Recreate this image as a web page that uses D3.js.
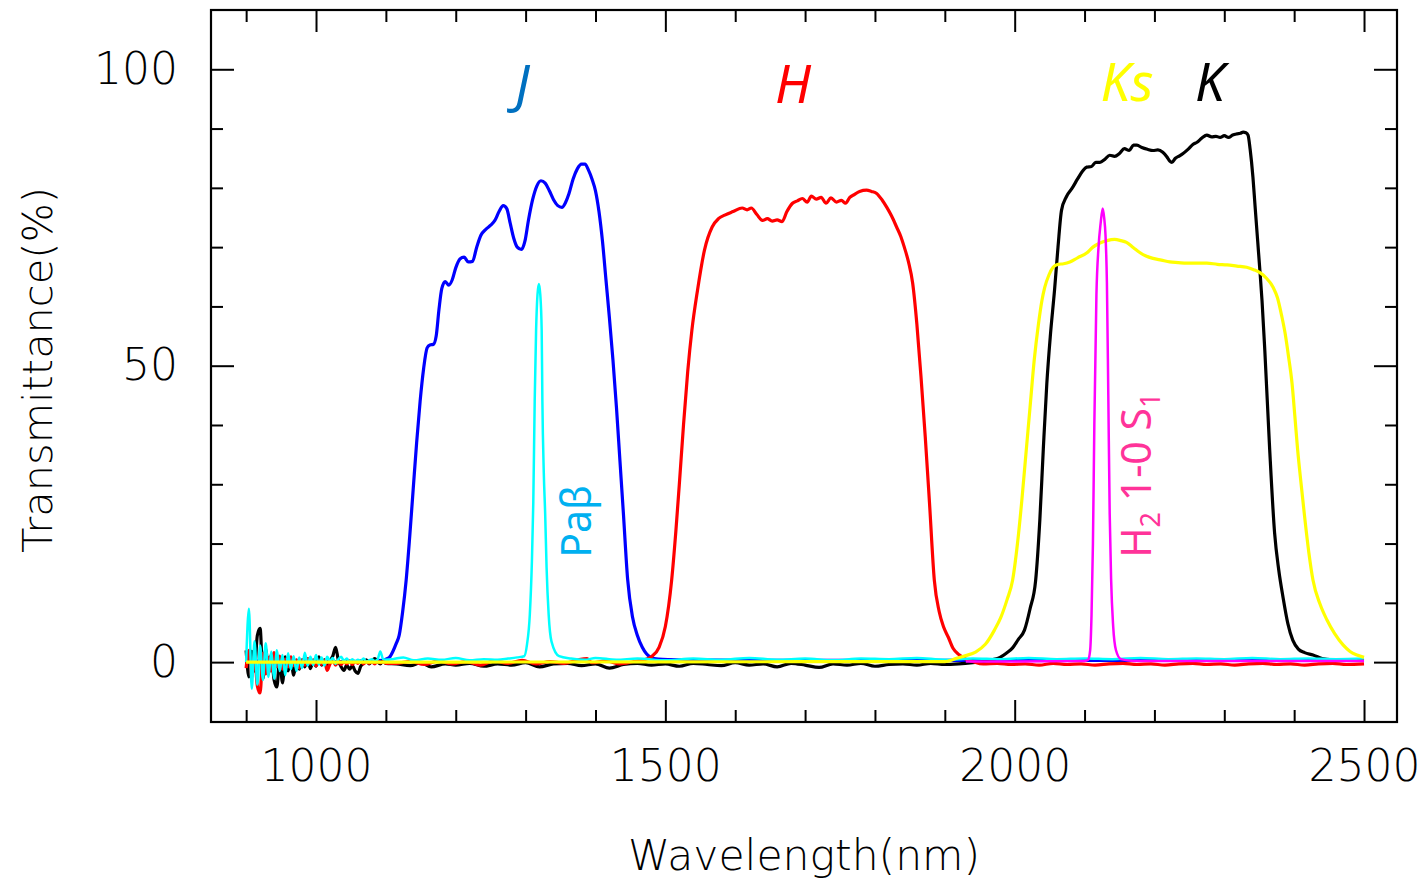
<!DOCTYPE html>
<html>
<head>
<meta charset="utf-8">
<script src="https://cdn.jsdelivr.net/npm/d3@7"></script>
<style>
  body { margin: 0; background: #fff; }
</style>
</head>
<body>
<svg id="chart" width="1423" height="881"></svg>
<script>
// ---- axis ticks ----
const xMajor = [1000, 1500, 2000, 2500];
const xMinor = [900, 1100, 1200, 1300, 1400, 1600, 1700, 1800, 1900, 2100, 2200, 2300, 2400];
const yMajor = [0, 50, 100];
const yMinor = [10, 20, 30, 40, 60, 70, 80, 90];

// ---- detector noise below 1100 nm (sampled every 4 nm from 900 nm) ----
const noiseWl = d3.range(900, 1101, 4);
const kNoise = [2, -2.5, 1.8, -1.5, 4.5, 5.7, -2.8, 2.2, -1.8, 1.2, -3, -4.2, 0.8, -3.5, 0.9, -1.5, 0.6, -2.2, 0.3, -1.2,
  0.4, -0.8, 0.6, -1.1, 0.3, -0.7, 0.9, -0.5, 0.4, -1, 0.2, 1, 2.5, 0.3, -0.8, -1.4, -0.5, -1.2, -0.6, -1.5,
  -1.9, -0.7, -0.2, 0.4, -0.3, 0.2, 0.6, 0.1, -0.3, 0.2, -0.2];
const hNoise = [-1, 2, -2.5, 1.2, -4, -5.2, 1.5, -2, 0.8, -1.5, 1.6, -0.8, 1, -1.2, 0.5, -0.8, 0.9, -0.6, 0.4, -1,
  0.3, -0.5, 0.6, -0.3, 0.4, -0.6, 0.2, -0.4, 0.3, -1.4, -0.3, 0.3, -0.5, 0.2, -0.4, 0.1, -0.3, 0.2, -0.4, 0.1,
  -0.2, 0.2, -0.3, 0.1, -0.2, 0.1, -0.3, 0.2, -0.1, 0.1, -0.2];
const pabNoise = [0, 9, -4.5, 3.5, -3.8, 2.8, -3, 3.2, -2.5, 1.8, -2.8, 2, -1.5, 1.2, -2.2, 1.5, -1.2, 1, -1.5, 0.8,
  -1, 1.6, -0.6, 0.9, -0.5, 1.2, -0.4, 0.8, -0.6, 0.9, 0.2, 0.7, -0.3, 0.5, 0.9, 0.2, 0.6, 0.1, 0.5, 0.1,
  0.4, 0.2, 0.6, 0.1, 0.3, 0.5, 0.2, 0.4, 1.8, 0.5, 0.4];

// ---- filter transmission curves: [wavelength nm, transmittance %] ----
const jCurve = [[900,0.1],[960,0.2],[1040,0.1],[1095,0.3],[1100,0.5],[1105,0.8],[1110,1.8],[1115,3.2],[1119,4.5],
  [1124,8.5],[1129,13.8],[1134,21],[1139,29],[1144,37],[1149,44],[1154,49.5],[1159,53],[1163,53.5],[1168,53.6],
  [1172,55],[1176,59.5],[1180,63],[1185,64.2],[1190,63.6],[1195,64.5],[1200,66.5],[1206,68],[1212,68.3],[1218,67.5],
  [1224,67.6],[1230,70],[1236,72],[1243,73],[1250,73.7],[1256,74.5],[1262,76],[1268,77],[1273,76.5],[1278,74],
  [1283,71.5],[1288,70],[1294,69.6],[1299,71],[1304,74.5],[1310,78],[1316,80.3],[1322,81.2],[1328,80.8],[1334,79.5],
  [1340,78],[1346,77],[1352,76.7],[1357,77.5],[1362,79],[1368,81.5],[1374,83.2],[1380,84],[1385,84],[1390,83],
  [1395,81.5],[1400,79.5],[1405,76],[1410,71],[1415,64.5],[1420,58],[1425,51],[1430,43],[1435,34],[1440,25],
  [1446,14],[1453,7.6],[1460,4.5],[1467,2.5],[1473,1.4],[1478,0.9],[1490,0.5],[1520,0.4],[1700,0.3],[2000,0.3],[2500,0.3]];

const hCurve = [[1115,-0.2],[1135,0.1],[1155,-0.4],[1175,0.2],[1195,-0.3],[1215,0.1],[1235,-0.5],[1255,0.2],[1275,-0.2],
  [1295,0.3],[1315,-0.3],[1335,0.1],[1355,-0.2],[1375,0.4],[1388,0.6],[1395,-0.1],[1415,0.2],[1435,-0.3],[1455,0.1],[1470,0.4],
  [1481,1],[1491,2.5],[1500,6],[1509,13.8],[1515,22],[1520,30],[1526,40],[1532,49],[1538,56],[1546,62.7],[1556,69.5],
  [1567,73.4],[1576,74.8],[1585,75.4],[1597,76],[1610,76.6],[1617,76.3],[1623,76.6],[1631,75.5],[1639,74.5],[1646,74.8],
  [1653,74.4],[1660,74.6],[1667,74.3],[1674,76],[1682,77.4],[1689,77.8],[1696,78.2],[1703,77.6],[1709,78.6],[1716,78.1],
  [1723,78.4],[1730,77.4],[1737,78.3],[1745,77.6],[1752,77.9],[1758,77.4],[1764,78.4],[1771,78.9],[1778,79.4],[1788,79.6],
  [1795,79.4],[1802,79.1],[1810,78],[1817,76.7],[1824,75.2],[1831,73.4],[1837,71.8],[1842,70],[1848,67.5],[1854,63.9],
  [1860,57],[1866,48],[1872,38],[1878,27],[1885,13.8],[1892,8.5],[1898,6],[1905,4.2],[1912,2.3],[1921,1.2],[1930,0.5],
  [1940,0.1],[1955,-0.3],[1975,-0.2],[1995,-0.4],[2015,-0.3],[2035,-0.5],[2055,-0.2],[2075,-0.4],[2095,-0.3],[2115,-0.5],
  [2135,-0.3],[2155,-0.2],[2175,-0.4],[2195,-0.3],[2215,-0.5],[2235,-0.3],[2255,-0.2],[2275,-0.4],[2295,-0.3],[2315,-0.5],
  [2335,-0.3],[2355,-0.2],[2375,-0.4],[2395,-0.3],[2415,-0.5],[2435,-0.3],[2455,-0.2],[2475,-0.4],[2500,-0.3]];

const kCurve = [[1115,-0.3],[1135,-0.6],[1150,-0.1],[1165,-0.8],[1185,-0.3],[1200,-0.5],[1220,-0.2],[1240,-0.7],[1260,-0.3],
  [1280,-0.5],[1300,-0.1],[1320,-0.8],[1340,-0.3],[1360,-0.2],[1380,-0.6],[1400,-0.3],[1420,-1.0],[1440,-0.4],[1460,-0.2],
  [1480,-0.5],[1500,-0.3],[1520,-0.7],[1540,-0.2],[1560,-0.4],[1580,-0.6],[1600,-0.1],[1620,-0.5],[1640,-0.3],[1660,-0.8],
  [1680,-0.2],[1700,-0.5],[1720,-0.9],[1740,-0.3],[1760,-0.5],[1780,-0.2],[1800,-0.7],[1820,-0.4],[1840,-0.3],[1860,-0.5],
  [1880,-0.2],[1900,-0.4],[1920,-0.3],[1940,-0.1],[1955,0.1],[1968,0.4],
  [1979,0.8],[1988,1.5],[1997,2.4],[2005,3.8],[2014,5.4],[2022,9],[2030,13.8],[2036,24],[2041,36],[2046,47],[2051,55],
  [2057,62.7],[2062,70],[2067,76.2],[2074,78.5],[2082,79.9],[2090,81.5],[2097,82.8],[2103,83.5],[2110,83.6],[2116,84.3],
  [2122,84.3],[2129,84.8],[2136,85.5],[2143,85.3],[2150,85.8],[2157,86.6],[2164,86.3],[2170,87.2],[2175,87.2],[2182,86.8],
  [2190,86.5],[2198,86.3],[2205,86.4],[2212,86],[2218,85.2],[2222,84.5],[2225,84.3],[2230,85],[2236,85.4],[2241,85.8],
  [2248,86.5],[2255,87.3],[2261,87.7],[2268,88.4],[2275,88.9],[2282,88.6],[2288,88.7],[2294,88.5],[2300,88.8],[2306,88.5],
  [2312,88.9],[2318,89.1],[2323,89.2],[2327,89.4],[2331,89.3],[2334,88.9],[2337,86.5],[2341,81.8],[2344,77],[2348,70.7],
  [2351,66],[2354,61],[2358,52.6],[2365,35.8],[2372,21.8],[2378,15.5],[2384,11],[2391,6.5],[2398,3.7],[2406,2.2],
  [2415,1.6],[2427,1.2],[2440,0.6],[2455,0.4],[2500,0.3]];

const ksCurve = [[900,0],[1000,0],[1500,0.05],[1900,0.1],[1918,0.7],[1930,1.1],[1944,1.7],[1958,3],[1971,5.4],[1980,7.5],
  [1989,10.5],[1997,13.8],[2004,20],[2010,27],[2016,35],[2022,43],[2028,51],[2034,57],[2039,61],[2043,63.2],[2049,65.3],
  [2055,66.6],[2062,67.1],[2070,67.2],[2079,67.5],[2090,68.2],[2103,69],[2112,70],[2122,70.7],[2132,71.1],[2143,71.3],
  [2152,71.1],[2160,70.8],[2170,69.9],[2179,69.1],[2188,68.5],[2198,68.1],[2210,67.8],[2222,67.5],[2234,67.4],[2246,67.3],
  [2260,67.3],[2275,67.3],[2290,67.1],[2304,67],[2318,66.8],[2332,66.6],[2342,66.2],[2351,65.7],[2360,64.8],[2370,63.2],
  [2376,61.5],[2382,58.5],[2387,55.5],[2392,51.5],[2397,47],[2401,41.5],[2405,35.8],[2410,30],[2415,24.5],[2421,18.5],
  [2427,13.8],[2437,9.8],[2447,7.1],[2458,4.8],[2470,2.9],[2480,1.8],[2490,1.2],[2500,0.8]];

const pabCurve = [[1110,0.5],[1125,0.8],[1140,0.3],[1160,0.6],[1180,0.4],[1200,0.7],[1220,0.3],[1240,0.5],[1260,0.4],
  [1275,0.6],[1288,0.8],[1298,1],[1302,3],[1306,8],[1309,17],[1311,27],[1313,44],[1315,56],[1317,62],[1319,63.8],
  [1321,62],[1323,56],[1324,44],[1326,32],[1328,25],[1330,16],[1333,8],[1337,3.5],[1348,1],[1365,0.6],[1385,0.4],
  [1400,0.7],[1430,0.4],[1460,0.6],[1500,0.3],[1540,0.6],[1580,0.4],[1620,0.7],[1660,0.4],[1700,0.6],[1740,0.3],
  [1780,0.6],[1820,0.5],[1860,0.7],[1900,0.4],[1940,0.6],[1980,0.5],[2020,0.7],[2060,0.5],[2100,0.6],[2140,0.5],
  [2180,0.7],[2220,0.5],[2260,0.6],[2300,0.5],[2340,0.7],[2380,0.5],[2420,0.6],[2460,0.5],[2500,0.6]];

const h2Curve = [[1930,0.1],[2000,0.1],[2100,0.2],[2105,0.4],[2108,2],[2110,8],[2112,20],[2114,40],[2117,62],[2120,70],
  [2123,74],[2126,76.5],[2128,75],[2130,72],[2132,64],[2134,45],[2136,25],[2138,14],[2141,6],[2145,2],[2152,0.5],
  [2170,0.2],[2500,0.2]];

// ---- series, in drawing order ----
const pairs = (wl, vals) => wl.map((w, i) => [w, vals[i]]);
const series = [
  { name: "J",      color: "#0000ff", width: 3.2, data: jCurve },
  { name: "K",      color: "#000000", width: 3.2, data: pairs(noiseWl, kNoise).concat(kCurve) },
  { name: "H",      color: "#ff0000", width: 3.2, data: pairs(noiseWl, hNoise).concat(hCurve) },
  { name: "PaB",    color: "#00ffff", width: 2.5, data: pairs(noiseWl, pabNoise).concat(pabCurve) },
  { name: "Ks",     color: "#ffff00", width: 3.2, data: ksCurve },
  { name: "H2",     color: "#ff00ff", width: 2.5, data: h2Curve }
];

// ---- band names and narrow-band line labels ----
const bandLabels = [
  { text: "J",  wl: 1285, t: 94.3, color: "#0070c0" },
  { text: "H",  wl: 1657, t: 94.3, color: "#ff0000" },
  { text: "Ks", wl: 2123, t: 94.6, color: "#ffff00" },
  { text: "K",  wl: 2258, t: 94.6, color: "#000000" }
];

const svg = d3.select("#chart");
const x = d3.scaleLinear().domain([849.7, 2547.2]).range([211, 1397]);
const y = d3.scaleLinear().domain([-10.1, 110]).range([722, 10]);

const [x0, x1] = x.range();
const [yb, yt] = y.range();

svg.append("defs").append("clipPath").attr("id", "plot")
  .append("rect").attr("x", x0).attr("y", yt).attr("width", x1 - x0).attr("height", yb - yt);

// curves
const line = d3.line().x(d => x(d[0])).y(d => y(d[1])).curve(d3.curveMonotoneX);
svg.append("g").attr("clip-path", "url(#plot)")
  .selectAll("path").data(series).join("path")
  .attr("d", d => line(d.data))
  .attr("fill", "none")
  .attr("stroke", d => d.color)
  .attr("stroke-width", d => d.width)
  .attr("stroke-linejoin", "round");

// axes: ticks point inward on all four sides
const tickFont = g => g.selectAll("text")
  .attr("font-family", "'DejaVu Sans', sans-serif")
  .attr("font-size", 44)
  .attr("font-weight", 300)
  .attr("fill", "#000");
const tickStroke = g => {
  g.select(".domain").remove();
  g.selectAll("line").attr("stroke", "#000").attr("stroke-width", 2);
};

svg.append("g").attr("transform", `translate(0,${yb})`)
  .call(d3.axisBottom(x).tickValues(xMajor).tickSize(-22).tickPadding(28).tickFormat(d3.format("d")))
  .call(tickStroke).call(tickFont);
svg.append("g").attr("transform", `translate(0,${yb})`)
  .call(d3.axisBottom(x).tickValues(xMinor).tickSize(-12).tickFormat(""))
  .call(tickStroke);
svg.append("g").attr("transform", `translate(0,${yt})`)
  .call(d3.axisTop(x).tickValues(xMajor).tickSize(-22).tickFormat(""))
  .call(tickStroke);
svg.append("g").attr("transform", `translate(0,${yt})`)
  .call(d3.axisTop(x).tickValues(xMinor).tickSize(-12).tickFormat(""))
  .call(tickStroke);

svg.append("g").attr("transform", `translate(${x0},0)`)
  .call(d3.axisLeft(y).tickValues(yMajor).tickSize(-23).tickPadding(33).tickFormat(d3.format("d")))
  .call(tickStroke).call(tickFont);
svg.append("g").attr("transform", `translate(${x0},0)`)
  .call(d3.axisLeft(y).tickValues(yMinor).tickSize(-12).tickFormat(""))
  .call(tickStroke);
svg.append("g").attr("transform", `translate(${x1},0)`)
  .call(d3.axisRight(y).tickValues(yMajor).tickSize(-23).tickFormat(""))
  .call(tickStroke);
svg.append("g").attr("transform", `translate(${x1},0)`)
  .call(d3.axisRight(y).tickValues(yMinor).tickSize(-12).tickFormat(""))
  .call(tickStroke);

// frame
svg.append("rect")
  .attr("x", x0).attr("y", yt).attr("width", x1 - x0).attr("height", yb - yt)
  .attr("fill", "none").attr("stroke", "#000").attr("stroke-width", 2.2);

// axis titles
svg.append("text")
  .attr("x", (x0 + x1) / 2).attr("y", 870)
  .attr("text-anchor", "middle")
  .attr("font-family", "'DejaVu Sans', sans-serif").attr("font-size", 42.5).attr("font-weight", 300)
  .text("Wavelength(nm)");
svg.append("text")
  .attr("transform", `translate(52,${(yb + yt) / 2 + 4}) rotate(-90)`)
  .attr("text-anchor", "middle")
  .attr("font-family", "'DejaVu Sans', sans-serif").attr("font-size", 41.5).attr("font-weight", 300)
  .text("Transmittance(%)");

// band names
svg.append("g").selectAll("text").data(bandLabels).join("text")
  .attr("x", d => x(d.wl)).attr("y", d => y(d.t))
  .attr("font-family", "'Noto Sans', 'Open Sans', sans-serif")
  .attr("font-style", "italic")
  .attr("font-size", 53)
  .attr("fill", d => d.color)
  .text(d => d.text);

// Pa beta label, rotated
svg.append("text")
  .attr("transform", `translate(${x(1393)},${y(17.6)}) rotate(-90)`)
  .attr("font-family", "'Noto Sans', 'Open Sans', sans-serif")
  .attr("font-size", 41)
  .attr("fill", "#00b0f0")
  .text("Paβ");

// H2 1-0 S1 label, rotated, with subscripts
const h2Label = svg.append("text")
  .attr("transform", `translate(${x(2195)},${y(17.6)}) rotate(-90)`)
  .attr("font-family", "'Noto Sans', 'Open Sans', sans-serif")
  .attr("font-size", 41)
  .attr("fill", "#ff3399");
h2Label.append("tspan").text("H");
h2Label.append("tspan").attr("dy", 9).attr("font-size", 27).text("2");
h2Label.append("tspan").attr("dy", -9).text(" 1-0 S");
h2Label.append("tspan").attr("dy", 9).attr("font-size", 27).text("1");
</script>
</body>
</html>
